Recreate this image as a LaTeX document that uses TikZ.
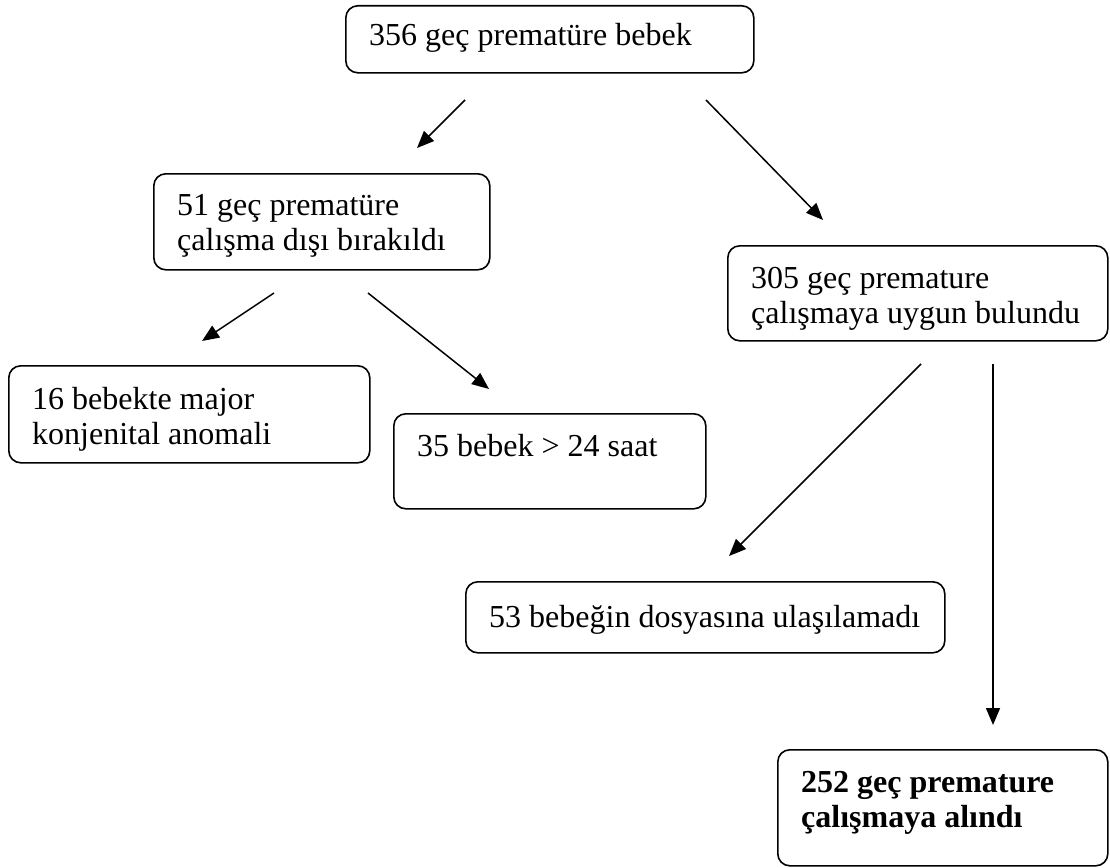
\documentclass[tikz,border=0pt]{standalone}
\usepackage{fontspec}
\setmainfont{Liberation Serif}
\usetikzlibrary{arrows.meta}
\begin{document}
\begin{tikzpicture}[x=1pt,y=-1pt,
  box/.style={draw, line width=1.6pt, rounded corners=12pt, inner sep=0pt, anchor=north west},
  txt/.style={font=\fontsize{32}{35}\selectfont, align=left, anchor=base west, inner sep=0pt},
  arr/.style={line width=1.5pt, -{Triangle[length=17pt,width=14pt]}}]
\useasboundingbox (0,0) rectangle (1110,867);
% boxes
\node[box, minimum width=408pt, minimum height=67pt] (b1) at (345,5) {};
\node[box, minimum width=336pt, minimum height=96pt] (b2) at (153,173) {};
\node[box, minimum width=380pt, minimum height=95pt] (b3) at (727,245) {};
\node[box, minimum width=361pt, minimum height=97pt] (b4) at (8,365) {};
\node[box, minimum width=312pt, minimum height=95pt] (b5) at (393,413) {};
\node[box, minimum width=479pt, minimum height=71pt] (b6) at (465,581) {};
\node[box, minimum width=330pt, minimum height=116pt] (b7) at (777,749) {};
% texts (base anchor = last line)
\node[txt] (t1) at ([xshift=24pt,yshift=-41pt]b1.north west) {356 geç prematüre bebek};
\node[txt] (t2) at ([xshift=24pt,yshift=-77pt]b2.north west) {51 geç prematüre\\çalışma dışı bırakıldı};
\node[txt] (t3) at ([xshift=24pt,yshift=-78pt]b3.north west) {305 geç premature\\çalışmaya uygun bulundu};
\node[txt] (t4) at ([xshift=24pt,yshift=-79pt]b4.north west) {16 bebekte major\\konjenital anomali};
\node[txt] (t5) at ([xshift=24pt,yshift=-43pt]b5.north west) {35 bebek > 24 saat};
\node[txt] (t6) at ([xshift=24pt,yshift=-46pt]b6.north west) {53 bebeğin dosyasına ulaşılamadı};
\node[txt, font=\fontsize{32}{35}\selectfont\bfseries] (t7) at ([xshift=24pt,yshift=-78pt]b7.north west) {252 geç premature\\çalışmaya alındı};
% arrow end points
\coordinate (a1s) at (465,100); \coordinate (a1e) at (417,148);
\coordinate (a2s) at (706,100); \coordinate (a2e) at (823,220);
\coordinate (a3s) at (274,293); \coordinate (a3e) at (202,341);
\coordinate (a4s) at (368,293); \coordinate (a4e) at (489,389);
\coordinate (a5s) at (921,364); \coordinate (a5e) at (729,556);
\coordinate (a6s) at (993,364); \coordinate (a6e) at (993,725);
\draw[arr] (a1s) -- (a1e);
\draw[arr] (a2s) -- (a2e);
\draw[arr] (a3s) -- (a3e);
\draw[arr] (a4s) -- (a4e);
\draw[arr] (a5s) -- (a5e);
\draw[arr] (a6s) -- (a6e);
\end{tikzpicture}
\end{document}
